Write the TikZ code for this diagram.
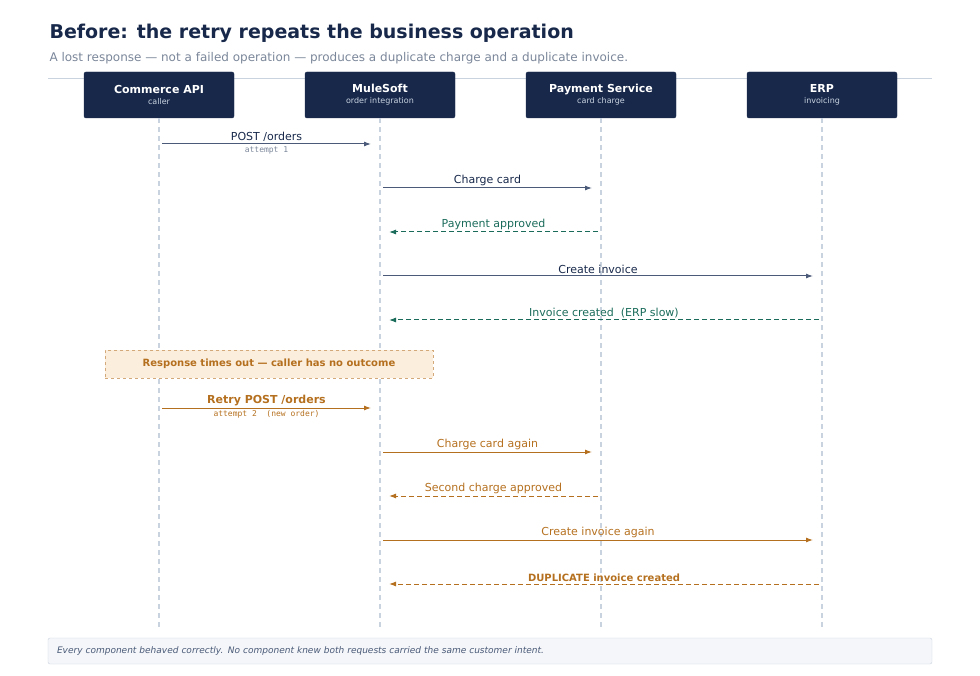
\documentclass[tikz,border=0pt]{standalone}
\usepackage{fontspec}
\setmainfont{DejaVu Sans}
\setmonofont{DejaVu Sans Mono}
\usetikzlibrary{arrows.meta, positioning}
\usepackage{xcolor}
\definecolor{navy}{HTML}{17284A}
\definecolor{slate}{HTML}{4A5A78}
\definecolor{mute}{HTML}{7A8699}
\definecolor{teal}{HTML}{1A6B5A}
\definecolor{amber}{HTML}{B5701F}
\definecolor{notefill}{HTML}{FBEEDD}
\definecolor{rule}{HTML}{C9D3E0}

\begin{document}
\begin{tikzpicture}[
x=1pt, y=-1pt,
actor/.style={draw=navy,
fill=navy,
rounded corners=2pt,
minimum width=150pt,
minimum height=46pt,
align=center,
text=white},
life/.style={draw=rule, dashed, line width=1.2pt, dash pattern=on 5pt off 4pt},
call/.style={-{Latex[length=7pt,width=5pt]}, line width=1pt},
reply/.style={-{Latex[length=7pt,width=5pt]}, line width=1pt, dash pattern=on 5pt off 3pt},
lbl/.style={font=\fontsize{11}{13}\selectfont, anchor=south, inner sep=2pt},
sub/.style={font=\fontsize{8}{10}\ttfamily, anchor=north, inner sep=2pt}
]
\useasboundingbox (0,0) rectangle (980,676);

\node[anchor=west, text=navy, font=\fontsize{19}{22}\selectfont\bfseries] (title) at (46,33) {Before: the retry repeats the business operation};
\node[anchor=west, text=mute, font=\fontsize{12}{14}\selectfont] (subtitle) at (46,58) {A lost response — not a failed operation — produces a duplicate charge and a duplicate invoice.};
\draw[rule, line width=0.8pt] (48,78) -- (932,78);

% actors
\node[actor] (ca) at (159,95) {{\fontsize{11}{13}\selectfont\bfseries Commerce API}\\[-1pt]{\fontsize{8}{10}\selectfont\color{rule} caller}};
\node[actor] (ms) at (380,95) {{\fontsize{11}{13}\selectfont\bfseries MuleSoft}\\[-1pt]{\fontsize{8}{10}\selectfont\color{rule} order integration}};
\node[actor] (ps) at (601,95) {{\fontsize{11}{13}\selectfont\bfseries Payment Service}\\[-1pt]{\fontsize{8}{10}\selectfont\color{rule} card charge}};
\node[actor] (erp) at (822,95) {{\fontsize{11}{13}\selectfont\bfseries ERP}\\[-1pt]{\fontsize{8}{10}\selectfont\color{rule} invoicing}};

% lifelines
\foreach \a/\x in {ca/159, ms/380, ps/601, erp/822} {
  \coordinate (\a-end) at (\x,628);
  \draw[life] (\a.south) -- (\a-end);
  \foreach \r/\y in {1/144, 2/188, 3/232, 4/276, 5/320, 6/408, 7/452, 8/496, 9/540, 10/584} {
    \coordinate (\a-o\r) at (\x+3,\y);
    \coordinate (\a-i\r) at (\x-9,\y);
    \coordinate (\a-r\r) at (\x+9,\y);
    \coordinate (\a-s\r) at (\x-3,\y);
  }
}

% first attempt
\draw[call, slate] (ca-o1) -- node[lbl, text=navy] {POST /orders} node[sub, text=mute] {attempt 1} (ms-i1);
\draw[call, slate] (ms-o2) -- node[lbl, text=navy] {Charge card} (ps-i2);
\draw[reply, teal] (ps-s3) -- node[lbl, text=teal] {Payment approved} (ms-r3);
\draw[call, slate] (ms-o4) -- node[lbl, text=navy] {Create invoice} (erp-i4);
\draw[reply, teal] (erp-s5) -- node[lbl, text=teal] {Invoice created\ \ (ERP slow)} (ms-r5);

% timeout note
\node[draw=amber!60, fill=notefill, dashed, minimum width=328pt, minimum height=28pt, text=amber, font=\fontsize{10}{12}\selectfont\bfseries] (timeout) at (269,364) {Response times out — caller has no outcome};

% retry
\draw[call, amber] (ca-o6) -- node[lbl, font=\fontsize{11}{13}\selectfont\bfseries, text=amber] {Retry POST /orders} node[sub, text=amber] {attempt 2\ \ (new order)} (ms-i6);
\draw[call, amber] (ms-o7) -- node[lbl, text=amber] {Charge card again} (ps-i7);
\draw[reply, amber] (ps-s8) -- node[lbl, text=amber] {Second charge approved} (ms-r8);
\draw[call, amber] (ms-o9) -- node[lbl, text=amber] {Create invoice again} (erp-i9);
\draw[reply, amber] (erp-s10) -- node[lbl, font=\fontsize{10}{12}\selectfont\bfseries, text=amber] {DUPLICATE invoice created} (ms-r10);

% footer
\node[draw=rule, fill=rule!20, rounded corners=2pt, minimum width=884pt, minimum height=26pt, text width=866pt, align=left, text=slate, font=\fontsize{9}{11}\selectfont\itshape] (footer) at (490,651) {Every component behaved correctly. No component knew both requests carried the same customer intent.};
\end{tikzpicture}
\end{document}
